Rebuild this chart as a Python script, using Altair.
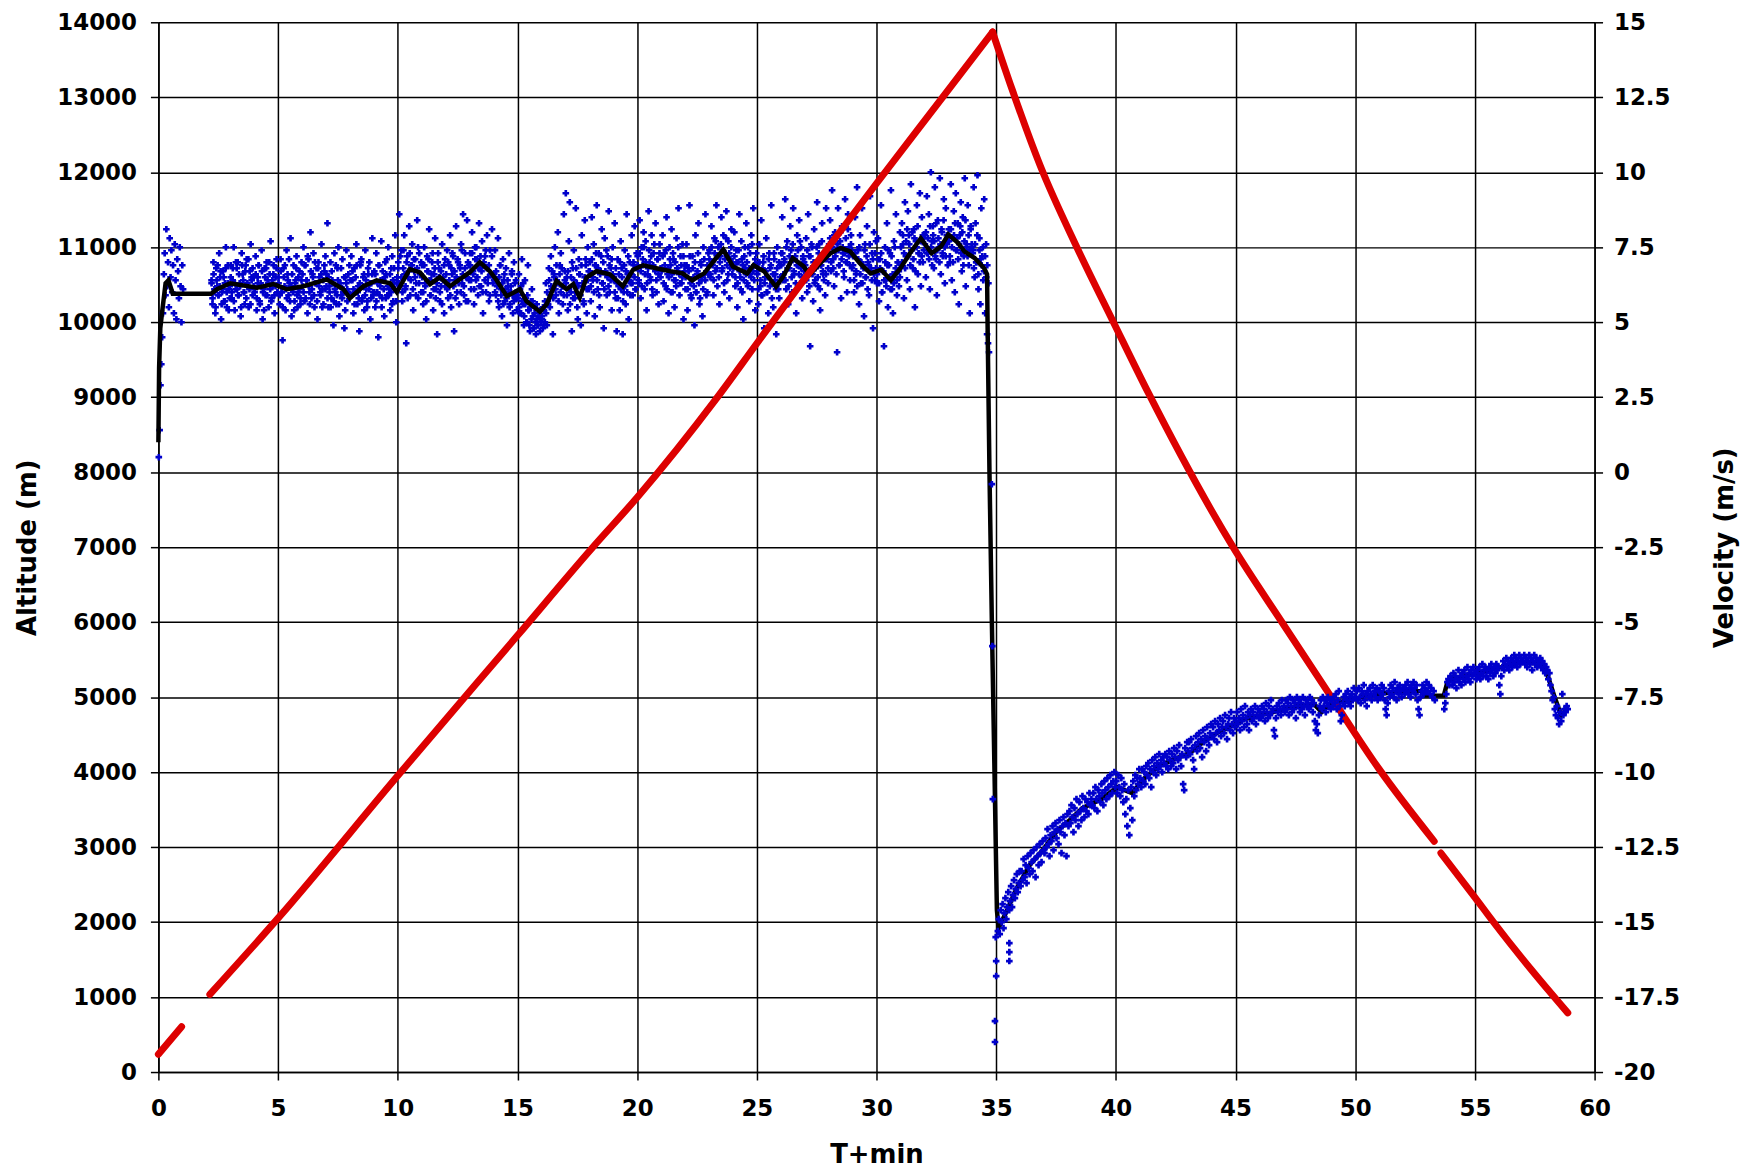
import altair as alt
import pandas as pd

# ---------------- Altitude (m), red trace (logged segments) ----------------
alt_start_t = [0.0, 0.97]
alt_start_m = [236, 605]
alt_asc_t = [2.15, 5.02, 9.99, 15.0, 18.14, 20.0, 23.31, 25.1, 30.0, 32.76, 34.85]
alt_asc_m = [1036, 2059, 3948, 5821, 6996, 7662, 8980, 9760, 11850, 12998, 13870]
alt_desc_t = [34.85, 35.66, 36.85, 38.37, 39.9, 41.37, 44.93, 46.96, 49.0, 51.0, 53.3]
alt_desc_m = [13870, 13110, 12080, 11000, 10000, 9050, 6983, 5989, 5000, 4040, 3077]
alt_end_t = [53.58, 55.0, 55.75, 57.35, 58.88]
alt_end_m = [2921, 2330, 2011, 1367, 789]

# ---------------- Smoothed velocity (m/s), black trace ----------------
vel_line_t = [0.0, 0.03, 0.08, 0.15, 0.3, 0.42, 0.6, 2.2, 2.45, 3.0, 4.12, 4.81, 5.37, 6.06,
              7.03, 7.73, 8.0, 8.57, 9.12, 9.68, 9.96, 10.5, 10.93, 11.35, 11.76, 12.18,
              13.0, 13.43, 13.85, 14.13, 14.55, 15.1, 15.38, 15.94, 16.22, 16.63, 17.05,
              17.33, 17.6, 17.89, 18.3, 18.86, 19.4, 19.83, 20.25, 20.8, 21.4, 21.9, 22.3,
              22.8, 23.3, 23.6, 24.0, 24.6, 24.86, 25.3, 25.8, 26.1, 26.5, 26.96, 27.2,
              27.65, 28.08, 28.5, 28.9, 29.3, 29.75, 30.2, 30.6, 31.0, 31.4, 31.85, 32.3,
              32.7, 33.0, 33.4, 33.67, 34.1, 34.5, 34.62, 34.64, 34.72, 34.82, 34.93,
              35.03, 35.1, 35.46, 35.84, 36.4, 36.95, 37.5, 38.07, 38.6, 39.4, 40.06,
              40.67, 41.2, 41.8, 42.35, 43.1, 43.65, 44.2, 44.76, 45.3, 46.06, 46.8,
              47.55, 48.3, 48.6, 49.0, 49.8, 50.5, 51.3, 52.0, 52.75, 52.9, 53.7, 53.85,
              54.05, 54.6, 55.35, 56.1, 56.65, 57.2, 57.8, 58.05, 58.33, 58.6, 58.85]
vel_line_v = [1.0, 3.5, 4.8, 5.3, 6.3, 6.4, 5.95, 5.95, 6.1, 6.3, 6.15, 6.27, 6.1, 6.2,
              6.43, 6.1, 5.8, 6.2, 6.4, 6.3, 6.0, 6.77, 6.66, 6.27, 6.5, 6.2,
              6.66, 7.0, 6.7, 6.4, 5.87, 6.1, 5.7, 5.35, 5.6, 6.38, 6.1,
              6.27, 5.82, 6.5, 6.7, 6.6, 6.2, 6.75, 6.9, 6.8, 6.7, 6.63, 6.4,
              6.63, 7.14, 7.42, 6.86, 6.63, 6.9, 6.7, 6.18, 6.52, 7.14, 6.86, 6.58,
              6.97, 7.3, 7.48, 7.36, 6.97, 6.63, 6.75, 6.4, 6.8, 7.3, 7.8, 7.3,
              7.53, 7.93, 7.65, 7.36, 7.14, 6.8, 6.6, 5.0, 0.0, -5.0, -10.0,
              -14.6, -15.2, -14.6, -13.9, -13.1, -12.6, -12.0, -11.6, -11.2, -10.9, -10.5,
              -10.7, -10.2, -9.8, -9.6, -9.36, -9.0, -8.7, -8.5, -8.25, -8.1, -7.95,
              -7.8, -7.75, -8.0, -7.7, -7.6, -7.45, -7.36, -7.3, -7.3, -7.45, -7.45, -7.0,
              -6.9, -6.8, -6.65, -6.5, -6.37, -6.35, -6.4, -6.8, -7.5, -8.1, -7.9]

# ---------------- Raw velocity samples (m/s), blue points ----------------
# (block start min, block end min, samples logged evenly through the block)
ascent_blocks = [
    (0.0, 1.05, [0.5, 1.4, 2.9, 3.6, 4.5, 5.3, 6.6, 7.3, 5.9, 8.1, 6.2, 7.0, 5.5, 7.8, 6.5,
                 7.4, 6.0, 6.9, 5.3, 7.6, 6.4, 5.1, 7.1, 6.7, 5.8, 7.5, 6.2, 5.0, 6.9, 6.1]),
    (2.2, 3.0, [6.4, 5.6, 7.0, 6.1, 5.3, 6.8, 6.2, 5.9, 7.3, 6.5, 5.1, 6.0, 6.7, 5.7, 6.3,
                7.5, 5.5, 6.9, 6.1, 5.8]),
    (3.0, 4.0, [6.9, 5.8, 6.4, 7.5, 5.4, 6.1, 6.8, 7.0, 5.9, 6.3, 5.2, 7.3, 6.6, 6.0, 5.6,
                6.9, 7.1, 6.2, 5.5, 6.7, 7.6, 6.4, 5.9, 6.5]),
    (4.0, 5.0, [6.0, 7.2, 5.4, 6.5, 6.9, 5.7, 6.3, 7.4, 5.1, 6.1, 6.8, 5.9, 7.0, 6.4, 5.5,
                6.6, 7.7, 5.8, 6.2, 6.9, 5.3, 6.5, 7.1, 6.0]),
    (5.0, 6.0, [6.5, 5.6, 7.1, 6.0, 4.4, 6.8, 6.2, 5.4, 7.4, 6.6, 5.9, 6.3, 7.8, 5.2, 6.1,
                6.9, 5.7, 6.4, 7.2, 5.5, 6.0, 6.7, 5.8, 7.0]),
    (6.0, 7.0, [6.2, 7.5, 5.7, 6.9, 6.4, 5.3, 7.1, 6.0, 8.0, 5.8, 6.6, 7.3, 5.5, 6.3, 6.8,
                5.1, 7.0, 6.5, 5.9, 7.6, 6.1, 5.6, 6.7, 7.2]),
    (7.0, 8.0, [6.6, 8.3, 5.5, 6.2, 7.0, 5.8, 6.4, 4.9, 7.3, 6.0, 5.6, 6.8, 7.5, 5.2, 6.3,
                5.9, 7.1, 6.1, 4.8, 6.5, 7.4, 5.7, 6.0, 6.9]),
    (8.0, 9.0, [5.9, 7.2, 6.4, 5.3, 6.8, 6.0, 7.6, 5.6, 6.2, 4.7, 6.9, 7.1, 5.8, 6.5, 5.4,
                7.4, 6.1, 5.7, 6.6, 7.0, 5.1, 6.3, 7.8, 5.9]),
    (9.0, 10.0, [6.7, 5.5, 7.3, 6.0, 4.5, 6.9, 6.2, 7.7, 5.8, 6.4, 5.2, 7.0, 6.6, 5.9, 7.5,
                 6.1, 5.4, 6.8, 7.2, 5.7, 6.3, 7.9, 5.0, 6.5]),
    (10.0, 11.0, [7.0, 8.6, 6.2, 7.4, 5.7, 6.8, 7.9, 6.1, 4.3, 7.2, 6.5, 8.2, 5.9, 6.9, 7.6,
                  5.4, 6.7, 7.1, 6.3, 8.4, 5.8, 7.3, 6.6, 6.0]),
    (11.0, 12.0, [6.9, 5.6, 7.5, 6.3, 5.1, 7.2, 6.7, 8.1, 5.9, 6.4, 7.0, 5.4, 6.6, 7.8, 6.1,
                  4.6, 7.3, 6.8, 5.7, 6.2, 7.6, 6.5, 5.3, 7.1]),
    (12.0, 13.0, [6.2, 7.4, 5.8, 6.9, 7.9, 5.5, 6.6, 7.2, 4.7, 6.4, 8.2, 6.0, 7.0, 5.6, 6.8,
                  7.6, 6.3, 8.6, 5.9, 7.3, 6.5, 8.4, 5.7, 6.9]),
    (13.0, 14.0, [7.3, 6.1, 8.0, 6.7, 5.6, 7.5, 6.4, 7.1, 5.9, 8.3, 6.8, 6.2, 7.7, 5.3, 6.9,
                  7.2, 6.0, 7.9, 6.5, 5.7, 7.4, 6.6, 8.1, 6.3]),
    (14.0, 15.0, [6.6, 7.4, 5.9, 6.3, 7.8, 5.5, 6.9, 6.1, 5.2, 7.1, 6.4, 5.7, 6.8, 4.9, 6.2,
                  7.3, 5.6, 6.0, 6.7, 5.3, 7.0, 5.8, 6.4, 5.4]),
    (15.0, 16.0, [5.9, 6.6, 5.3, 6.2, 7.1, 5.6, 4.9, 6.4, 5.8, 5.0, 6.9, 5.4, 4.7, 5.7, 6.1,
                  5.2, 4.8, 5.5, 4.6, 5.1, 4.9, 5.3, 4.7, 5.0]),
    (16.0, 17.0, [5.2, 4.8, 5.4, 5.0, 6.3, 4.9, 5.7, 6.8, 5.5, 7.2, 6.1, 4.6, 6.6, 7.5, 5.9,
                  6.4, 8.0, 5.3, 6.9, 7.3, 6.2, 5.6, 8.6, 6.7]),
    (17.0, 18.0, [9.3, 6.5, 5.4, 7.7, 9.0, 6.0, 4.7, 6.8, 7.4, 5.8, 8.8, 6.3, 5.1, 7.1, 6.6,
                  4.9, 7.9, 6.2, 5.6, 8.4, 6.9, 5.3, 7.5, 6.1]),
    (18.0, 19.0, [7.0, 5.7, 8.5, 6.4, 7.6, 5.2, 6.9, 8.9, 6.1, 7.3, 5.5, 6.7, 8.1, 6.3, 4.8,
                  7.8, 6.6, 5.9, 7.2, 8.7, 6.0, 6.8, 5.4, 7.5]),
    (19.0, 20.0, [6.5, 8.3, 5.8, 4.7, 7.1, 6.2, 5.4, 7.7, 6.8, 4.6, 6.0, 7.4, 5.6, 8.6, 6.6,
                  5.1, 7.0, 6.3, 7.9, 5.9, 6.9, 8.2, 6.1, 7.3]),
    (20.0, 21.0, [7.2, 6.3, 8.4, 5.8, 7.5, 6.9, 8.0, 6.1, 7.7, 5.4, 6.6, 8.7, 7.0, 6.4, 7.9,
                  5.9, 7.3, 6.8, 8.3, 6.0, 7.1, 5.6, 7.6, 6.5]),
    (21.0, 22.0, [6.8, 7.9, 5.7, 7.3, 6.2, 8.5, 6.6, 5.3, 7.5, 6.9, 8.1, 6.0, 7.1, 5.5, 6.4,
                  7.8, 6.7, 8.8, 5.9, 7.2, 6.3, 7.6, 5.1, 6.9]),
    (22.0, 23.0, [6.1, 7.6, 5.4, 6.8, 8.9, 6.3, 5.8, 7.2, 6.5, 4.9, 7.9, 6.0, 6.7, 8.3, 5.6,
                  7.0, 6.4, 5.2, 7.5, 6.6, 8.6, 5.9, 6.9, 7.3]),
    (23.0, 24.0, [7.4, 6.5, 8.2, 7.0, 5.9, 7.8, 6.7, 8.9, 6.2, 7.5, 5.6, 7.2, 8.5, 6.8, 7.9,
                  6.0, 7.3, 8.7, 6.4, 7.7, 5.8, 7.1, 8.1, 6.6]),
    (24.0, 25.0, [6.9, 8.0, 6.2, 7.4, 5.5, 7.0, 8.6, 6.5, 7.7, 6.0, 5.1, 7.2, 6.8, 8.3, 6.3,
                  7.5, 5.7, 6.6, 7.9, 6.1, 8.8, 6.9, 5.4, 7.3]),
    (25.0, 26.0, [6.7, 5.6, 7.6, 6.2, 8.4, 5.9, 7.0, 4.8, 6.5, 7.8, 6.0, 5.3, 7.3, 6.8, 8.9,
                  6.3, 5.5, 7.1, 6.6, 4.6, 7.5, 6.1, 5.8, 6.9]),
    (26.0, 27.0, [7.3, 8.5, 6.4, 7.0, 9.1, 6.1, 7.7, 5.6, 6.8, 8.2, 7.4, 6.0, 8.8, 6.6, 7.2,
                  5.3, 7.9, 6.9, 8.4, 6.3, 7.5, 5.8, 7.1, 6.7]),
    (27.0, 28.0, [6.5, 7.8, 6.0, 8.6, 7.2, 4.2, 6.8, 7.5, 5.7, 8.1, 6.4, 7.0, 9.0, 6.2, 7.6,
                  5.4, 6.9, 8.3, 6.6, 7.3, 5.9, 8.8, 7.1, 6.3]),
    (28.0, 29.0, [7.6, 8.4, 6.7, 9.4, 7.1, 6.2, 8.0, 7.4, 4.0, 8.8, 6.9, 7.7, 5.8, 8.2, 7.3,
                  6.5, 9.1, 7.0, 6.0, 8.6, 7.5, 6.4, 7.9, 6.8]),
    (29.0, 30.0, [7.2, 6.0, 8.5, 6.6, 9.5, 7.4, 5.6, 7.9, 6.3, 8.8, 6.9, 5.2, 7.6, 6.5, 8.2,
                  7.0, 5.9, 9.2, 6.8, 7.3, 4.8, 8.0, 6.4, 7.7]),
    (30.0, 31.0, [6.3, 7.8, 5.7, 7.1, 8.9, 6.0, 6.7, 4.2, 7.5, 6.4, 8.3, 5.5, 6.9, 7.3, 9.4,
                  6.1, 5.3, 7.7, 6.6, 8.6, 5.9, 7.0, 6.2, 8.0]),
    (31.0, 32.0, [6.9, 8.3, 7.6, 5.8, 9.0, 7.2, 6.4, 8.7, 7.9, 6.1, 9.6, 7.4, 6.8, 8.1, 5.5,
                  7.7, 8.9, 6.6, 7.3, 9.3, 6.2, 8.5, 7.0, 7.8]),
    (32.0, 33.0, [7.9, 6.5, 9.2, 7.3, 8.6, 6.1, 10.0, 7.7, 8.2, 6.8, 9.5, 7.1, 5.9, 8.4, 7.5,
                  9.8, 6.6, 8.0, 7.2, 9.1, 6.3, 8.8, 7.6, 6.9]),
    (33.0, 34.0, [8.1, 7.0, 9.6, 6.4, 7.8, 8.7, 6.0, 9.3, 7.4, 8.3, 5.6, 7.9, 9.0, 6.7, 8.5,
                  7.2, 9.8, 6.2, 7.6, 8.9, 6.9, 5.3, 8.2, 7.5]),
    (34.0, 34.72, [7.4, 9.5, 6.5, 8.3, 7.0, 9.9, 6.1, 7.8, 5.6, 8.8, 7.2, 6.4, 9.1, 5.3, 7.6,
                   4.6, 4.3, 4.0]),
]

# second, interleaved set of ascent samples (the dense core of the band)
ascent_blocks_core = [
    (2.2, 3.0, [6.3, 5.8, 6.6, 6.0, 5.5, 6.4, 6.9, 5.9, 6.2, 6.7, 5.6, 6.1, 6.5, 5.7, 6.8,
                6.0, 6.3, 5.4, 6.2]),
    (3.0, 4.0, [6.5, 6.0, 6.8, 5.7, 6.3, 7.0, 6.1, 5.9, 6.6, 6.2, 5.5, 6.9, 6.4, 6.0, 6.7,
                5.8, 6.3, 7.1, 6.1, 5.6, 6.5, 6.8, 6.2]),
    (4.0, 5.0, [6.1, 6.6, 5.8, 6.3, 6.9, 5.6, 6.2, 6.7, 6.0, 5.4, 6.5, 6.8, 5.9, 6.3, 7.0,
                6.1, 5.7, 6.4, 6.6, 5.9, 6.2, 6.8, 6.0]),
    (5.0, 6.0, [6.3, 5.9, 6.7, 6.0, 5.5, 6.5, 6.9, 6.1, 5.8, 6.4, 7.1, 5.7, 6.2, 6.6, 6.0,
                5.4, 6.3, 6.8, 5.9, 6.5, 6.1, 5.6, 6.4]),
    (6.0, 7.0, [6.6, 6.0, 6.9, 5.8, 6.4, 7.2, 6.2, 5.6, 6.7, 6.1, 6.5, 5.9, 7.0, 6.3, 5.7,
                6.8, 6.2, 6.0, 6.6, 5.5, 6.4, 6.9, 6.1]),
    (7.0, 8.0, [6.2, 5.8, 6.5, 6.0, 5.5, 6.7, 6.3, 5.7, 6.1, 6.9, 5.9, 6.4, 5.6, 6.2, 6.8,
                5.8, 6.0, 6.5, 5.4, 6.3, 6.1, 6.6, 5.9]),
    (8.0, 9.0, [6.4, 5.9, 6.7, 6.1, 5.6, 6.5, 6.9, 6.0, 5.8, 6.3, 7.0, 5.7, 6.2, 6.6, 5.9,
                6.4, 5.5, 6.8, 6.1, 6.3, 5.8, 6.6, 6.0]),
    (9.0, 10.0, [6.0, 6.6, 5.7, 6.3, 6.9, 5.9, 6.4, 5.5, 6.7, 6.1, 6.5, 5.8, 7.1, 6.2, 5.9,
                 6.6, 6.0, 5.6, 6.4, 6.8, 6.1, 5.7, 6.3]),
    (10.0, 11.0, [6.8, 6.3, 7.2, 6.5, 6.0, 7.4, 6.6, 6.2, 7.0, 5.8, 6.7, 7.3, 6.4, 6.9, 6.1,
                  7.1, 6.5, 5.9, 6.8, 7.5, 6.3, 6.6, 7.0]),
    (11.0, 12.0, [6.5, 6.0, 6.9, 6.2, 5.7, 6.7, 7.1, 6.4, 5.9, 6.6, 7.3, 6.1, 6.8, 5.8, 6.3,
                  7.0, 6.5, 6.0, 6.7, 5.6, 6.4, 6.9, 6.2]),
    (12.0, 13.0, [6.6, 6.1, 7.0, 6.4, 5.9, 6.8, 7.3, 6.2, 6.7, 5.8, 6.5, 7.1, 6.3, 6.9, 6.0,
                  7.4, 6.6, 6.2, 6.8, 5.7, 6.5, 7.0, 6.4]),
    (13.0, 14.0, [6.9, 6.4, 7.3, 6.6, 6.1, 7.1, 7.5, 6.5, 6.8, 6.2, 7.2, 6.7, 6.0, 7.0, 6.4,
                  7.4, 6.8, 6.3, 6.9, 5.9, 6.6, 7.2, 6.5]),
    (14.0, 15.0, [6.4, 6.0, 6.7, 6.2, 5.7, 6.5, 6.9, 5.9, 6.3, 5.6, 6.6, 6.1, 5.8, 6.4, 6.0,
                  5.5, 6.2, 6.6, 5.9, 5.7, 6.3, 6.0, 5.8]),
    (15.0, 16.0, [5.8, 5.5, 6.1, 5.3, 5.7, 6.3, 5.2, 5.6, 5.0, 5.9, 5.4, 4.9, 5.5, 5.1, 5.7,
                  4.8, 5.3, 5.0, 5.6, 4.9, 5.2, 5.4, 5.1]),
    (16.0, 17.0, [5.1, 5.5, 4.9, 5.7, 5.3, 6.0, 5.6, 6.4, 5.9, 6.2, 6.7, 5.8, 6.5, 6.1, 6.9,
                  6.3, 5.7, 6.6, 6.0, 6.8, 6.2, 5.9, 6.4]),
    (17.0, 18.0, [6.3, 5.9, 6.7, 6.1, 5.6, 6.5, 7.0, 5.8, 6.4, 6.0, 6.8, 5.5, 6.2, 6.6, 5.9,
                  6.9, 6.3, 5.7, 6.5, 7.1, 6.1, 6.4, 6.7]),
    (18.0, 19.0, [6.7, 6.2, 7.1, 6.5, 6.0, 6.9, 7.3, 6.4, 6.8, 5.9, 6.6, 7.2, 6.3, 7.0, 6.1,
                  6.7, 7.4, 6.5, 6.2, 6.9, 6.4, 7.1, 6.6]),
    (19.0, 20.0, [6.4, 6.0, 6.8, 6.3, 5.8, 6.6, 7.0, 6.1, 6.5, 5.7, 6.9, 6.2, 6.7, 6.0, 7.2,
                  6.4, 5.9, 6.6, 6.3, 7.0, 6.5, 6.1, 6.8]),
    (20.0, 21.0, [6.9, 6.4, 7.3, 6.7, 6.2, 7.1, 7.5, 6.6, 7.0, 6.3, 6.8, 7.4, 6.5, 7.2, 6.1,
                  6.9, 7.6, 6.7, 6.4, 7.1, 6.6, 7.3, 6.8]),
    (21.0, 22.0, [6.7, 7.2, 6.3, 6.9, 7.4, 6.1, 6.8, 6.5, 7.1, 6.0, 6.6, 7.3, 6.4, 7.0, 6.2,
                  6.8, 7.5, 6.6, 6.3, 6.9, 6.5, 7.2, 6.7]),
    (22.0, 23.0, [6.5, 6.9, 6.1, 6.7, 7.2, 5.9, 6.4, 6.8, 6.2, 7.0, 6.0, 6.6, 7.3, 6.3, 5.8,
                  6.9, 6.5, 6.1, 7.1, 6.4, 6.7, 6.0, 6.6]),
    (23.0, 24.0, [7.1, 6.6, 7.5, 6.9, 6.4, 7.3, 7.7, 6.8, 7.2, 6.5, 7.0, 7.6, 6.7, 7.4, 6.3,
                  7.1, 7.8, 6.9, 6.6, 7.3, 6.8, 7.5, 7.0]),
    (24.0, 25.0, [6.8, 7.2, 6.5, 7.0, 6.3, 7.4, 6.7, 6.1, 7.1, 6.9, 6.4, 7.5, 6.6, 7.0, 6.2,
                  6.8, 7.3, 6.5, 7.6, 6.7, 6.4, 7.1, 6.9]),
    (25.0, 26.0, [6.6, 6.1, 7.0, 6.4, 5.9, 6.8, 7.2, 6.3, 6.7, 6.0, 6.5, 7.1, 6.2, 6.9, 5.8,
                  6.6, 7.3, 6.4, 6.1, 6.8, 6.3, 7.0, 6.5]),
    (26.0, 27.0, [6.9, 7.3, 6.6, 7.1, 6.4, 7.5, 6.8, 6.2, 7.2, 7.0, 6.5, 7.6, 6.7, 7.1, 6.3,
                  6.9, 7.4, 6.6, 7.7, 6.8, 6.5, 7.2, 7.0]),
    (27.0, 28.0, [6.9, 6.4, 7.4, 6.7, 6.2, 7.2, 7.6, 6.6, 7.0, 6.3, 6.8, 7.5, 6.5, 7.3, 6.1,
                  6.9, 7.7, 6.7, 6.4, 7.1, 6.6, 7.4, 6.8]),
    (28.0, 29.0, [7.3, 7.8, 7.0, 7.5, 6.8, 7.9, 7.2, 6.6, 7.6, 7.4, 6.9, 8.0, 7.1, 7.5, 6.7,
                  7.3, 7.8, 7.0, 8.1, 7.2, 6.9, 7.6, 7.4]),
    (29.0, 30.0, [6.9, 6.4, 7.3, 6.7, 6.2, 7.1, 7.5, 6.6, 7.0, 6.3, 6.8, 7.4, 6.5, 7.2, 6.1,
                  6.9, 7.6, 6.7, 6.4, 7.1, 6.6, 7.3, 6.8]),
    (30.0, 31.0, [6.6, 7.1, 6.3, 6.8, 7.3, 6.0, 6.7, 6.4, 7.0, 6.2, 6.9, 7.4, 6.5, 6.1, 7.2,
                  6.6, 6.3, 7.5, 6.8, 6.4, 7.0, 6.7, 6.5]),
    (31.0, 32.0, [7.5, 7.0, 7.9, 7.3, 6.8, 7.7, 8.1, 7.2, 7.6, 6.9, 7.4, 8.0, 7.1, 7.8, 6.7,
                  7.5, 8.2, 7.3, 7.0, 7.7, 7.2, 7.9, 7.4]),
    (32.0, 33.0, [7.6, 8.0, 7.3, 7.8, 7.1, 8.2, 7.5, 6.9, 7.9, 7.7, 7.2, 8.3, 7.4, 7.8, 7.0,
                  7.6, 8.1, 7.3, 8.4, 7.5, 7.2, 7.9, 7.7]),
    (33.0, 34.0, [7.7, 7.2, 8.1, 7.5, 7.0, 7.9, 8.3, 7.4, 7.8, 7.1, 7.6, 8.2, 7.3, 8.0, 6.9,
                  7.7, 8.4, 7.5, 7.2, 7.9, 7.4, 8.1, 7.6]),
    (34.0, 34.7, [7.3, 6.8, 7.6, 7.0, 7.9, 6.6, 7.4, 7.1, 6.9, 7.5, 6.7, 7.2, 6.5, 6.9, 6.3]),
]

# isolated samples during the fast fall just after burst
burst_t = [34.82, 34.84, 34.86, 34.95, 34.95, 34.98, 35.0, 35.0, 35.55, 35.55, 35.55]
burst_v = [-0.4, -5.8, -10.9, -18.3, -19.0, -15.5, -16.3, -16.8, -15.7, -16.0, -16.3]

descent_blocks = [
    (35.05, 36.0, [-15.3, -14.9, -15.4, -14.6, -15.0, -14.4, -15.2, -14.7, -14.2, -14.9, -14.5,
                   -14.0, -14.6, -14.3, -13.8, -14.5, -14.1, -13.6, -14.2, -13.9, -13.4, -14.0,
                   -13.7, -13.3]),
    (36.0, 37.0, [-13.8, -13.3, -13.6, -12.9, -13.5, -13.1, -13.7, -12.8, -13.2, -13.4, -12.7,
                  -13.0, -13.3, -12.6, -12.9, -13.5, -12.5, -12.8, -13.1, -12.4, -12.7, -13.0,
                  -12.3, -12.6]),
    (37.0, 38.0, [-12.7, -12.2, -12.5, -11.9, -12.4, -12.8, -12.1, -12.3, -11.8, -12.6, -12.0,
                  -11.7, -12.2, -11.9, -12.4, -11.6, -12.0, -12.7, -11.8, -11.5, -12.1, -11.7,
                  -12.8, -11.4]),
    (38.0, 39.0, [-11.8, -11.3, -11.7, -11.1, -11.5, -12.0, -11.2, -11.6, -10.9, -11.4, -11.8,
                  -11.0, -11.3, -11.6, -10.8, -11.2, -11.5, -10.9, -11.3, -11.0, -11.4, -10.7,
                  -11.1, -10.9]),
    (39.0, 40.0, [-11.1, -10.7, -11.2, -10.5, -10.9, -11.3, -10.6, -10.8, -11.0, -10.4, -10.7,
                  -11.1, -10.3, -10.6, -10.9, -10.2, -10.5, -10.8, -10.1, -10.4, -10.7, -10.3,
                  -10.0, -10.5]),
    (40.0, 41.0, [-10.3, -10.7, -10.1, -10.5, -10.8, -10.2, -10.6, -11.0, -10.4, -11.4, -10.9,
                  -11.8, -10.6, -12.1, -11.2, -10.5, -11.6, -10.3, -10.8, -10.1, -10.6, -10.2,
                  -10.4, -9.9]),
    (41.0, 42.0, [-10.2, -10.5, -9.9, -10.3, -10.0, -10.4, -9.8, -10.1, -9.7, -10.2, -9.9,
                  -10.5, -9.6, -10.0, -9.8, -9.5, -10.1, -9.7, -9.9, -9.4, -9.8, -9.6, -10.0,
                  -9.5]),
    (42.0, 43.0, [-9.7, -9.4, -9.8, -9.5, -9.9, -9.3, -9.6, -9.8, -9.4, -9.7, -9.2, -9.5,
                  -9.9, -9.3, -9.6, -9.1, -9.5, -9.8, -9.4, -10.4, -10.6, -9.2, -9.5, -9.0]),
    (43.0, 44.0, [-9.3, -9.0, -9.4, -8.9, -9.2, -9.6, -9.9, -9.1, -8.8, -9.3, -9.0, -8.7,
                  -9.2, -8.9, -9.5, -8.6, -9.0, -8.8, -9.3, -8.5, -8.9, -9.1, -8.7, -8.4]),
    (44.0, 45.0, [-8.8, -8.5, -8.9, -8.3, -8.7, -9.0, -8.4, -8.6, -8.2, -8.8, -8.5, -8.3,
                  -8.7, -8.1, -8.5, -8.9, -8.4, -8.2, -8.6, -8.0, -8.4, -8.7, -8.2, -8.5]),
    (45.0, 46.0, [-8.3, -8.0, -8.4, -8.2, -8.6, -7.9, -8.3, -8.1, -8.5, -7.8, -8.2, -8.4,
                  -8.0, -8.6, -8.1, -7.9, -8.3, -8.0, -8.2, -7.8, -8.4, -8.1, -7.9, -8.2]),
    (46.0, 47.0, [-8.0, -8.2, -7.8, -8.1, -7.9, -8.3, -7.7, -8.0, -8.2, -7.8, -8.1, -7.6,
                  -8.0, -7.9, -8.6, -8.8, -8.2, -7.8, -8.0, -7.7, -7.9, -8.1, -7.6, -7.9]),
    (47.0, 48.0, [-7.8, -8.0, -7.6, -7.9, -7.7, -8.1, -7.5, -7.8, -8.0, -7.6, -7.9, -7.7,
                  -8.2, -7.5, -7.8, -7.6, -8.0, -7.7, -7.9, -7.5, -7.8, -8.1, -7.6, -7.8]),
    (48.0, 49.0, [-7.7, -7.9, -7.5, -7.8, -7.6, -8.0, -7.7, -8.3, -8.6, -8.4, -8.7, -8.1,
                  -7.8, -7.6, -7.9, -7.5, -7.8, -7.6, -8.0, -7.7, -7.5, -7.8, -7.6, -7.9]),
    (49.0, 50.0, [-7.6, -7.8, -7.5, -7.7, -7.4, -7.9, -7.6, -7.3, -7.8, -8.3, -8.1, -7.7,
                  -7.5, -7.8, -7.4, -7.6, -7.3, -7.7, -7.5, -7.8, -7.4, -7.6, -7.2, -7.5]),
    (50.0, 51.0, [-7.5, -7.3, -7.6, -7.2, -7.5, -7.7, -7.3, -7.4, -7.1, -7.6, -7.4, -7.8,
                  -7.3, -7.5, -7.2, -7.4, -7.6, -7.1, -7.4, -7.3, -7.5, -7.2, -7.6, -7.3]),
    (51.0, 52.0, [-7.3, -7.5, -7.1, -7.4, -7.2, -7.6, -7.9, -8.1, -7.7, -7.3, -7.5, -7.1,
                  -7.4, -7.2, -7.5, -7.0, -7.3, -7.6, -7.2, -7.4, -7.1, -7.3, -7.5, -7.2]),
    (52.0, 53.0, [-7.2, -7.4, -7.1, -7.3, -7.0, -7.4, -7.2, -7.5, -7.1, -7.3, -7.0, -7.2,
                  -7.4, -7.1, -7.6, -7.9, -8.1, -7.5, -7.3, -7.1, -7.4, -7.2, -7.3, -7.0]),
    (53.0, 53.35, [-7.3, -7.1, -7.4, -7.2, -7.5, -7.3, -7.6]),
    (53.7, 54.0, [-7.9, -7.7, -7.4, -7.0, -6.9, -7.1, -6.8]),
    (54.0, 55.0, [-6.9, -7.1, -6.7, -7.0, -6.8, -7.2, -6.9, -6.6, -7.0, -6.8, -7.1, -6.7,
                  -6.9, -6.6, -7.0, -6.8, -6.5, -6.9, -6.7, -7.0, -6.6, -6.8, -6.5, -6.7]),
    (55.0, 56.0, [-6.7, -6.9, -6.6, -6.8, -6.5, -6.9, -6.7, -6.4, -6.8, -6.6, -6.5, -6.8,
                  -6.6, -6.9, -6.5, -6.7, -6.4, -6.6, -6.8, -6.5, -6.7, -6.4, -6.6, -6.5]),
    (56.0, 57.0, [-7.1, -7.4, -6.8, -6.5, -6.3, -6.6, -6.4, -6.2, -6.5, -6.3, -6.6, -6.4,
                  -6.2, -6.5, -6.3, -6.1, -6.4, -6.2, -6.5, -6.3, -6.1, -6.4, -6.2, -6.3]),
    (57.0, 58.0, [-6.3, -6.1, -6.4, -6.2, -6.5, -6.3, -6.1, -6.4, -6.2, -6.6, -6.3, -6.1,
                  -6.4, -6.2, -6.5, -6.3, -6.4, -6.2, -6.5, -6.3, -6.6, -6.4, -6.7, -6.5]),
    (58.0, 58.9, [-6.6, -6.9, -6.7, -7.1, -7.3, -7.6, -7.5, -7.9, -8.1, -7.8, -8.2, -8.4,
                  -8.0, -8.3, -7.4, -8.1, -7.9, -8.0, -7.8, -7.9]),
]

x_ticks = list(range(0, 61, 5))
alt_ticks = list(range(0, 14001, 1000))
vel_ticks = [-20 + 2.5 * i for i in range(15)]

# ---------------- tables ----------------
alt_rows = []
for seg, (ts, ms) in enumerate([(alt_start_t, alt_start_m), (alt_asc_t, alt_asc_m),
                                (alt_desc_t, alt_desc_m), (alt_end_t, alt_end_m)]):
    for t, m in zip(ts, ms):
        alt_rows.append({"t": t, "m": m, "seg": seg})
alt_df = pd.DataFrame(alt_rows)

line_df = pd.DataFrame({"t": vel_line_t, "v": vel_line_v})


def block_rows(blocks):
    rows = []
    for start, end, vals in blocks:
        step = (end - start) / len(vals)
        for i, v in enumerate(vals):
            rows.append({"t": start + (i + 0.5) * step, "v": v})
    return rows


asc_df = pd.DataFrame(block_rows(ascent_blocks) + block_rows(ascent_blocks_core))
desc_df = pd.DataFrame(block_rows(descent_blocks) +
                       [{"t": t, "v": v} for t, v in zip(burst_t, burst_v)])

FONT = "DejaVu Sans"
axis_common = dict(
    domainColor="black", domainWidth=1.5, tickColor="black", tickWidth=1.5, tickSize=8,
    labelFont=FONT, labelFontSize=23, labelFontWeight="bold", labelColor="black",
    titleFont=FONT, titleFontSize=26, titleFontWeight="bold", titleColor="black",
    labelFlush=False, labelOverlap=False,
)

x_enc = alt.X(
    "t:Q",
    scale=alt.Scale(domain=[0, 60], nice=False, zero=False),
    axis=alt.Axis(values=x_ticks, title="T+min", grid=True, gridColor="black",
                  gridWidth=1.5, gridOpacity=1, labelPadding=18, titlePadding=21,
                  **axis_common),
)

vel_scale = alt.Scale(domain=[-20, 15], nice=False, zero=False)

DOT_COLOR = "#0000CC"
DOT_SIZE = 44
# thick "+" marker, like the spreadsheet's small plus symbols
DOT_SHAPE = "M-0.4,-1H0.4V-0.4H1V0.4H0.4V1H-0.4V0.4H-1V-0.4H-0.4Z"

asc_dots = alt.Chart(asc_df).mark_point(
    shape=DOT_SHAPE, filled=True, size=DOT_SIZE, color=DOT_COLOR, opacity=1, strokeWidth=0
).encode(
    x=x_enc,
    y=alt.Y("v:Q", scale=vel_scale,
            axis=alt.Axis(orient="right", values=vel_ticks, title="Velocity (m/s)",
                          grid=False, labelExpr="'' + datum.value", labelPadding=11,
                          titlePadding=58, titleAngle=270, labelBaseline="middle",
                          **axis_common)),
)

black_line = alt.Chart(line_df).mark_line(color="black", strokeWidth=4.5).encode(
    x=x_enc,
    y=alt.Y("v:Q", scale=vel_scale, axis=None),
    order="t:Q",
)

red_line = alt.Chart(alt_df).mark_line(
    color="#DD0000", strokeWidth=7, strokeCap="round", strokeJoin="round",
    interpolate="monotone"
).encode(
    x=x_enc,
    y=alt.Y("m:Q", scale=alt.Scale(domain=[0, 14000], nice=False, zero=False),
            axis=alt.Axis(orient="left", values=alt_ticks, format="d", title="Altitude (m)",
                          grid=True, gridColor="black", gridWidth=1.5, gridOpacity=1,
                          labelPadding=14, titlePadding=16, labelBaseline="middle",
                          **axis_common)),
    detail="seg:N",
    order="t:Q",
)

desc_dots = alt.Chart(desc_df).mark_point(
    shape=DOT_SHAPE, filled=True, size=DOT_SIZE, color=DOT_COLOR, opacity=1, strokeWidth=0
).encode(
    x=x_enc,
    y=alt.Y("v:Q", scale=vel_scale, axis=None),
)

chart = alt.layer(asc_dots, black_line, red_line, desc_dots).resolve_scale(
    y="independent"
).properties(
    width=1442, height=1054,
    autosize=alt.AutoSizeParams(type="none"),
    padding={"left": 151, "top": 12, "right": 146, "bottom": 94},
    background="white",
).configure_view(strokeWidth=0)

chart.save("out.html", embed_options={"renderer": "svg", "actions": False})
